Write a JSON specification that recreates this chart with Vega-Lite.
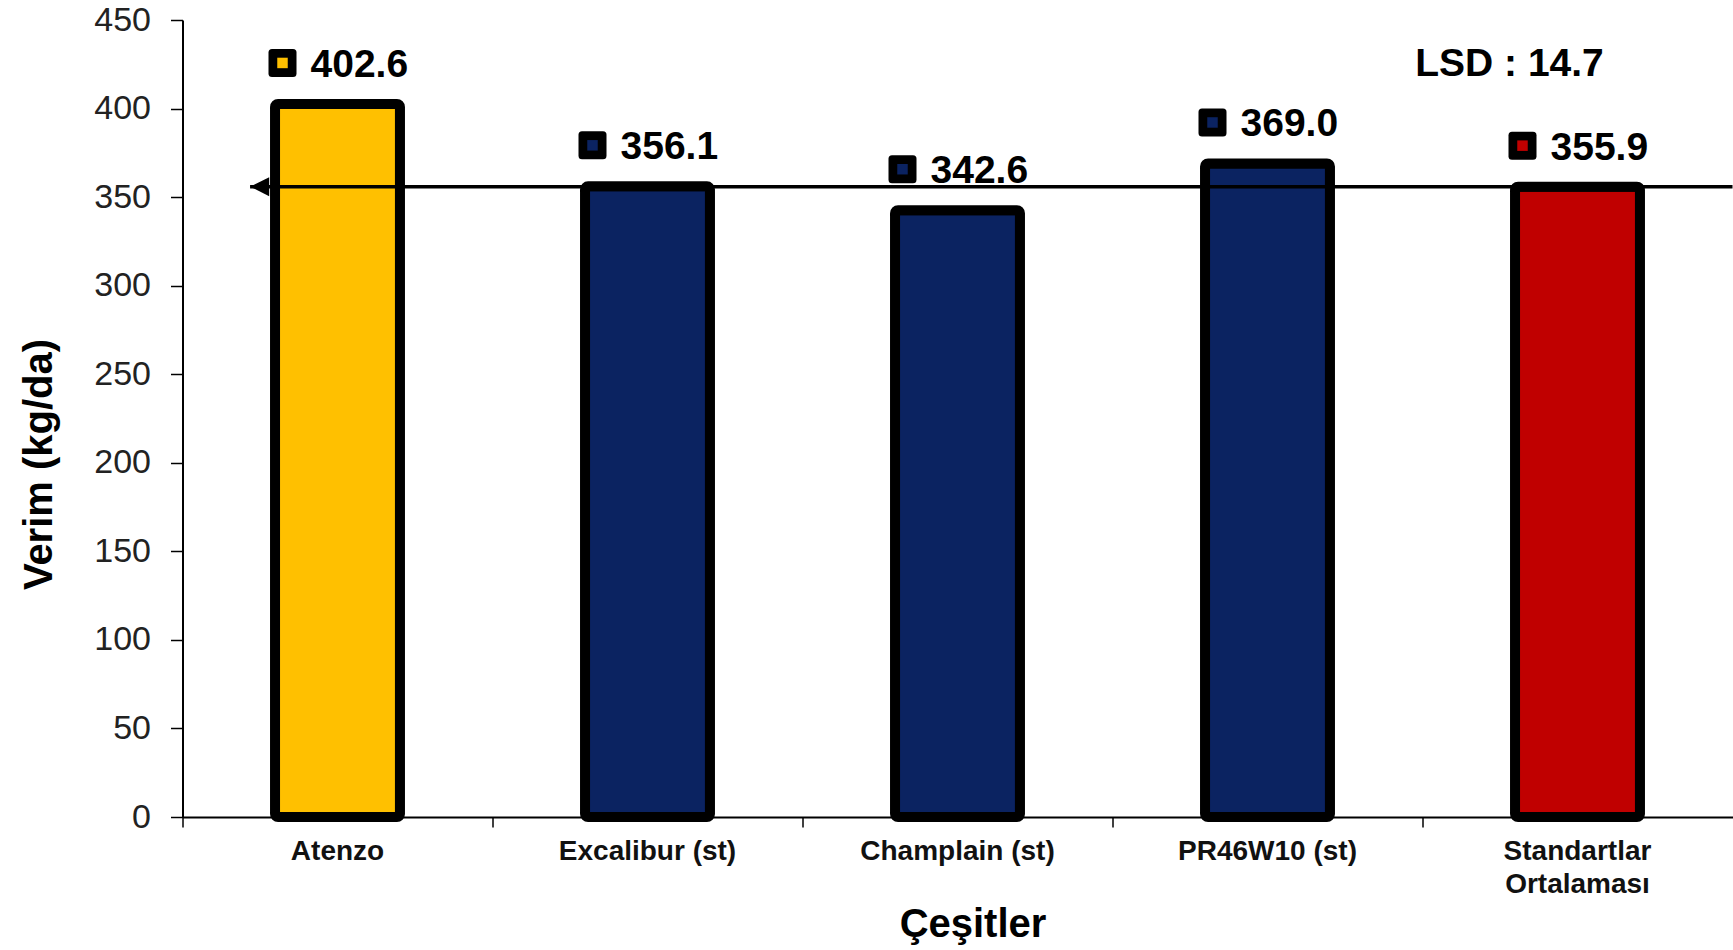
{
  "$schema": "https://vega.github.io/schema/vega-lite/v6.json",
  "width": 1550,
  "height": 797,
  "autosize": {"type": "none"},
  "padding": {"left": 182.5, "top": 20, "right": 0.5, "bottom": 133},
  "background": "white",
  "config": {"view": {"stroke": null}, "font": "Liberation Sans"},
  "data": {"values": [
    {"cesit": "Atenzo", "verim": 402.6},
    {"cesit": "Excalibur (st)", "verim": 356.1},
    {"cesit": "Champlain (st)", "verim": 342.6},
    {"cesit": "PR46W10 (st)", "verim": 369.0},
    {"cesit": "Standartlar Ortalaması", "verim": 355.9}
  ]},
  "encoding": {
    "x": {
      "field": "cesit", "type": "nominal", "sort": null,
      "scale": {"paddingInner": 0, "paddingOuter": 0},
      "axis": {
        "title": "Çeşitler", "titleFontSize": 40, "titleFontWeight": "bold", "titleColor": "#000",
        "titleX": 790, "titleY": 107, "titleAlign": "center", "titleBaseline": "middle",
        "labelFontSize": 28, "labelFontWeight": "bold", "labelColor": "#111", "labelAngle": 0,
        "labelPadding": 10, "labelBaseline": "top", "labelLineHeight": 33, "labelLimit": 0,
        "labelExpr": "datum.value == 'Standartlar Ortalaması' ? ['Standartlar', 'Ortalaması'] : datum.value",
        "bandPosition": 0, "tickSize": 10, "tickColor": "#000", "tickWidth": 1.5,
        "domainColor": "#000", "domainWidth": 2
      }
    }
  },
  "layer": [
    {
      "mark": {"type": "bar", "width": {"band": 0.403}, "stroke": "#000", "strokeWidth": 10, "cornerRadius": 3},
      "encoding": {
        "y": {
          "field": "verim", "type": "quantitative",
          "scale": {"domain": [0, 450], "nice": false},
          "axis": {
            "title": "Verim (kg/da)", "titleFontSize": 40, "titleFontWeight": "bold", "titleColor": "#000",
            "titleX": -143, "titleY": 444, "titleAlign": "center", "titleBaseline": "middle",
            "values": [0, 50, 100, 150, 200, 250, 300, 350, 400, 450],
            "grid": false, "labelFontSize": 34, "labelColor": "#222", "labelPadding": 20,
            "tickSize": 12, "tickColor": "#000", "tickWidth": 1.5,
            "domainColor": "#000", "domainWidth": 2
          }
        },
        "color": {
          "field": "cesit", "type": "nominal", "legend": null,
          "scale": {
            "domain": ["Atenzo", "Excalibur (st)", "Champlain (st)", "PR46W10 (st)", "Standartlar Ortalaması"],
            "range": ["#FFC000", "#0B2361", "#0B2361", "#0B2361", "#C00000"]
          }
        }
      }
    },
    {
      "data": {"values": [{"ort": 355.9}]},
      "mark": {"type": "rule", "strokeWidth": 3.5, "color": "#000"},
      "encoding": {
        "x": {"datum": "Atenzo", "bandPosition": 0.218},
        "x2": {"datum": "Standartlar Ortalaması", "bandPosition": 1},
        "y": {"field": "ort", "type": "quantitative"}
      }
    },
    {
      "data": {"values": [{"ort": 355.9}]},
      "mark": {"type": "point", "shape": "M -1 0 L 1 -1 L 1 1 Z", "filled": true, "opacity": 1, "color": "#000", "size": 361},
      "encoding": {
        "x": {"datum": "Atenzo", "bandPosition": 0.249},
        "y": {"field": "ort", "type": "quantitative"}
      }
    },
    {
      "mark": {"type": "point", "shape": "M -1 -0.75 Q -1 -1 -0.75 -1 L 0.75 -1 Q 1 -1 1 -0.75 L 1 0.75 Q 1 1 0.75 1 L -0.75 1 Q -1 1 -1 0.75 Z", "filled": true, "opacity": 1, "color": "#000", "size": 784, "xOffset": -55, "yOffset": -41},
      "encoding": {
        "y": {"field": "verim", "type": "quantitative"}
      }
    },
    {
      "mark": {"type": "point", "shape": "square", "filled": true, "opacity": 1, "size": 110, "xOffset": -55, "yOffset": -41},
      "encoding": {
        "y": {"field": "verim", "type": "quantitative"},
        "color": {"field": "cesit", "type": "nominal", "legend": null}
      }
    },
    {
      "mark": {"type": "text", "align": "left", "baseline": "middle", "dx": -27, "dy": -39, "fontSize": 39, "fontWeight": "bold", "color": "#000"},
      "encoding": {
        "y": {"field": "verim", "type": "quantitative"},
        "text": {"field": "verim", "type": "quantitative", "format": ".1f"}
      }
    },
    {
      "data": {"values": [{"etiket": "LSD : 14.7", "cesit": "Standartlar Ortalaması"}]},
      "mark": {"type": "text", "align": "center", "baseline": "middle", "dx": -68, "fontSize": 39, "fontWeight": "bold", "color": "#000"},
      "encoding": {
        "y": {"datum": 425},
        "text": {"field": "etiket", "type": "nominal"}
      }
    }
  ]
}
